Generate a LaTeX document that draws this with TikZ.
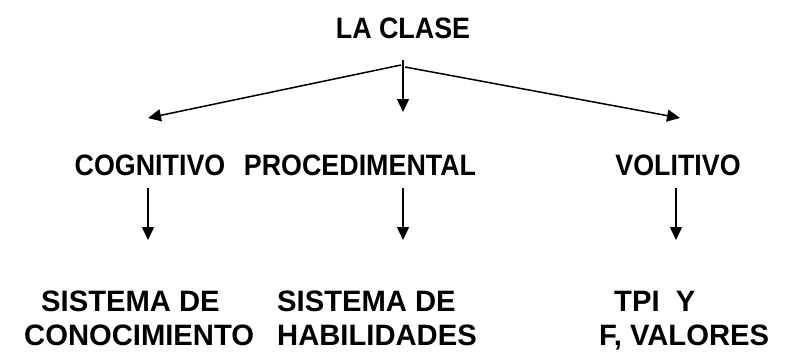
\documentclass[tikz,border=0pt]{standalone}
\usepackage{fontspec}
\setmainfont{Liberation Sans}[FakeStretch=0.91]
\newfontfamily\anchafont{Liberation Sans}[FakeStretch=0.99]
\usetikzlibrary{arrows.meta}

\begin{document}
\begin{tikzpicture}[x=1pt,y=-1pt,
        lbl/.style={font=\bfseries\fontsize{29.5}{34}\selectfont,inner sep=0pt,align=center},
        lblb/.style={lbl,font=\anchafont\bfseries\fontsize{29.5}{34}\selectfont,align=left,anchor=north west},
        arr/.style={-{Triangle[length=13pt,width=12pt]},line width=1.5pt}]
        \useasboundingbox (0,0) rectangle (797,353);

        \node[lbl,anchor=base](clase) at (403,38){LA CLASE};
        \node[lbl,anchor=base](cog) at (150,175){COGNITIVO};
        \node[lbl,anchor=base](proc) at (360,175){PROCEDIMENTAL};
        \node[lbl,anchor=base](vol) at (678,175){VOLITIVO};

        \node[lblb](conoc) at (24,291){\hspace{17pt}SISTEMA DE\\CONOCIMIENTO};
        \node[lblb](habil) at (277,291){SISTEMA DE\\HABILIDADES};
        \node[lblb](valor) at (599,291){\hspace{15pt}TPI\ \ Y\\F, VALORES};

        % reparto desde la clase
        \coordinate (tope) at (403,60);
        \coordinate (hubL) at (401,65);
        \coordinate (hubR) at (405,67);
        \coordinate (finL) at (148,118);
        \coordinate (finC) at (403,112);
        \coordinate (finR) at (680,118);
        \draw[arr](hubL)--(finL);
        \draw[arr](tope)--(finC);
        \draw[arr](hubR)--(finR);

        % flechas hacia abajo
        \coordinate (cogA) at (148,188);
        \coordinate (cogB) at (148,240);
        \coordinate (procA) at (403,188);
        \coordinate (procB) at (403,240);
        \coordinate (volA) at (676,188);
        \coordinate (volB) at (676,240);
        \draw[arr](cogA)--(cogB);
        \draw[arr](procA)--(procB);
        \draw[arr](volA)--(volB);
    \end{tikzpicture}
\end{document}
